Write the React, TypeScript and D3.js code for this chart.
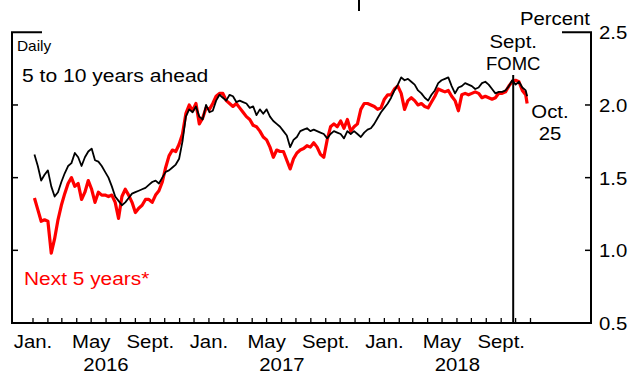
import React from "react";
import * as d3 from "d3";

// ---------- data ----------
const seriesStart = new Date(2016, 0, 4);
const seriesWeeklyEnd = new Date(2018, 9, 23);
const lastDate = new Date(2018, 9, 25);
const fomcDate = new Date(2018, 8, 26);

// 5 to 10 years ahead (black), weekly readings + last day
const ahead5to10 = [
  1.66, 1.58, 1.48, 1.52, 1.55, 1.44, 1.37, 1.40, 1.47, 1.53,
  1.58, 1.60, 1.67, 1.64, 1.58, 1.64, 1.68, 1.70, 1.62, 1.61,
  1.58, 1.54, 1.50, 1.44, 1.37, 1.34, 1.31, 1.33, 1.36, 1.39,
  1.40, 1.41, 1.42, 1.43, 1.45, 1.47, 1.48, 1.46, 1.50, 1.54,
  1.55, 1.57, 1.59, 1.63, 1.75, 1.92, 1.97, 1.95, 1.99, 1.92,
  1.90, 2.00, 1.95, 1.96, 2.03, 2.07, 2.05, 2.03, 2.07, 2.06,
  2.02, 2.03, 2.02, 2.01, 1.98, 1.99, 1.93, 1.97, 1.94, 1.97,
  1.92, 1.89, 1.87, 1.85, 1.82, 1.79, 1.71, 1.76, 1.78, 1.82,
  1.83, 1.84, 1.82, 1.83, 1.82, 1.81, 1.80, 1.77, 1.80, 1.82,
  1.81, 1.80, 1.77, 1.82, 1.80, 1.82, 1.80, 1.78, 1.81, 1.83,
  1.84, 1.87, 1.91, 1.95, 1.98, 2.01, 2.05, 2.10, 2.14, 2.19,
  2.17, 2.18, 2.16, 2.14, 2.10, 2.08, 2.05, 2.03, 2.07, 2.10,
  2.15, 2.17, 2.18, 2.19, 2.13, 2.08, 2.12, 2.13, 2.15, 2.14,
  2.13, 2.11, 2.12, 2.15, 2.16, 2.14, 2.11, 2.08, 2.09, 2.09,
  2.10, 2.13, 2.17, 2.14, 2.16, 2.12, 2.10,
  2.06,
];

// Next 5 years (red)
const next5 = [
  1.36, 1.28, 1.20, 1.21, 1.20, 0.98, 1.08, 1.21, 1.31, 1.39,
  1.46, 1.50, 1.44, 1.46, 1.35, 1.40, 1.48, 1.42, 1.33, 1.40,
  1.38, 1.38, 1.37, 1.38, 1.33, 1.22, 1.37, 1.42, 1.38, 1.33,
  1.26, 1.29, 1.31, 1.35, 1.35, 1.33, 1.38, 1.41, 1.47, 1.57,
  1.65, 1.69, 1.68, 1.73, 1.80, 1.94, 2.00, 1.96, 2.01, 1.87,
  1.91, 1.98, 1.97, 2.01, 2.06, 2.08, 2.08, 2.03, 2.01, 1.99,
  2.01, 1.98, 1.95, 1.92, 1.90, 1.86, 1.85, 1.82, 1.78, 1.76,
  1.71, 1.64, 1.69, 1.68, 1.68, 1.62, 1.56, 1.63, 1.67, 1.69,
  1.70, 1.72, 1.71, 1.74, 1.71, 1.66, 1.64, 1.76, 1.85, 1.87,
  1.85, 1.89, 1.84, 1.90, 1.82, 1.85, 1.87, 1.97, 2.01, 2.01,
  2.00, 1.99, 1.97, 1.98, 2.04, 2.07, 2.07, 2.11, 2.13, 2.08,
  1.97, 2.03, 2.05, 2.03, 2.00, 2.01, 1.99, 1.98, 2.02, 2.06,
  2.11, 2.10, 2.09, 2.10, 2.06, 2.03, 1.96, 2.07, 2.08, 2.07,
  2.08, 2.09, 2.08, 2.05, 2.06, 2.05, 2.04, 2.05, 2.08, 2.08,
  2.09, 2.13, 2.16, 2.17, 2.16, 2.10, 2.07,
  2.01,
];

const yTicks = [0.5, 1.0, 1.5, 2.0, 2.5];
const monthLabelNames = ["Jan.", "May", "Sept."];
const monthLabelIndex = [0, 4, 8];
const years = [2016, 2017, 2018];

// ---------- layout ----------
const W = 642;
const H = 377;
const frameLeft = 12;
const frameRight = 591;
const FONT = "'Liberation Sans', Arial, Helvetica, sans-serif";

const dates: Date[] = [...d3.timeMonday.range(seriesStart, seriesWeeklyEnd), lastDate];

const x = d3
  .scaleTime()
  .domain([new Date(2016, 0, 1), new Date(2018, 9, 1)])
  .range([33, 515.6]);
const y = d3.scaleLinear().domain([0.5, 2.5]).range([323, 32.3]);

function T(props: {
  x: number;
  y: number;
  anchor?: string;
  size?: number;
  fill?: string;
  sx?: number;
  children: React.ReactNode;
}) {
  const { anchor = "start", size = 18.5, fill = "#000", sx = 1.1 } = props;
  return (
    <text
      transform={`translate(${props.x},${props.y}) scale(${sx},1)`}
      textAnchor={anchor}
      fontSize={size}
      fill={fill}
      fontFamily={FONT}
    >
      {props.children}
    </text>
  );
}

export default function App() {
  const line = d3
    .line<number>()
    .x((_, i) => x(dates[i]))
    .y((d) => y(d));

  const months = d3.timeMonth.range(new Date(2016, 0, 1), new Date(2018, 10, 2));
  const yBase = y(0.5);
  const yTop = y(2.5);

  return (
    <svg
      width={W}
      height={H}
      style={{ position: "absolute", left: 0, top: 0, display: "block", background: "#fff" }}
    >
      <rect x={0} y={0} width={W} height={H} fill="#fff" />
      {/* remnant of title descender */}
      <line x1={359} x2={359} y1={0} y2={11} stroke="#000" strokeWidth={2} />

      {/* frame */}
      <path
        d={`M${frameLeft + 30},${yTop} H${frameLeft} V${yBase} H${frameRight} V${yTop} H${frameRight - 29}`}
        fill="none"
        stroke="#000"
        strokeWidth={2}
      />
      {/* y ticks */}
      {yTicks.slice(1, -1).map((t) => (
        <g key={t}>
          <line x1={frameLeft} x2={frameLeft + 6} y1={y(t)} y2={y(t)} stroke="#000" strokeWidth={1.5} />
          <line x1={frameRight - 6} x2={frameRight} y1={y(t)} y2={y(t)} stroke="#000" strokeWidth={1.5} />
        </g>
      ))}
      {yTicks.map((t) => (
        <T key={t} x={599} y={y(t) + 7}>
          {t.toFixed(1)}
        </T>
      ))}
      <T x={590} y={25} anchor="end">
        Percent
      </T>

      {/* x ticks */}
      {months.map((m) => (
        <line
          key={m.toISOString()}
          x1={x(m)}
          x2={x(m)}
          y1={yBase}
          y2={yBase - 5}
          stroke="#000"
          strokeWidth={1.3}
        />
      ))}
      {years.map((yr) =>
        monthLabelIndex.map((mi, j) => (
          <T key={`${yr}-${mi}`} x={x(new Date(yr, mi, 1))} y={348} anchor="middle">
            {monthLabelNames[j]}
          </T>
        ))
      )}
      {years.map((yr) => (
        <T key={yr} x={x(new Date(yr, 0, 1)) + 73} y={371} anchor="middle">
          {yr}
        </T>
      ))}

      {/* series */}
      <path
        d={line(next5) || ""}
        fill="none"
        stroke="#ff0000"
        strokeWidth={3.2}
        strokeLinejoin="round"
      />
      <path
        d={line(ahead5to10) || ""}
        fill="none"
        stroke="#000"
        strokeWidth={1.8}
        strokeLinejoin="round"
      />

      {/* FOMC line */}
      <line x1={x(fomcDate)} x2={x(fomcDate)} y1={75} y2={yBase} stroke="#000" strokeWidth={2} />
      <T x={x(fomcDate)} y={48} anchor="middle">
        Sept.
      </T>
      <T x={x(fomcDate)} y={70} anchor="middle" sx={1.0}>
        FOMC
      </T>
      <T x={550} y={118} anchor="middle">
        Oct.
      </T>
      <T x={550} y={140} anchor="middle">
        25
      </T>

      {/* labels */}
      <T x={17} y={51} size={14}>
        Daily
      </T>
      <T x={22} y={82} sx={1.14}>
        5 to 10 years ahead
      </T>
      <T x={24} y={285} fill="#ff0000" sx={1.13}>
        Next 5 years*
      </T>
    </svg>
  );
}
